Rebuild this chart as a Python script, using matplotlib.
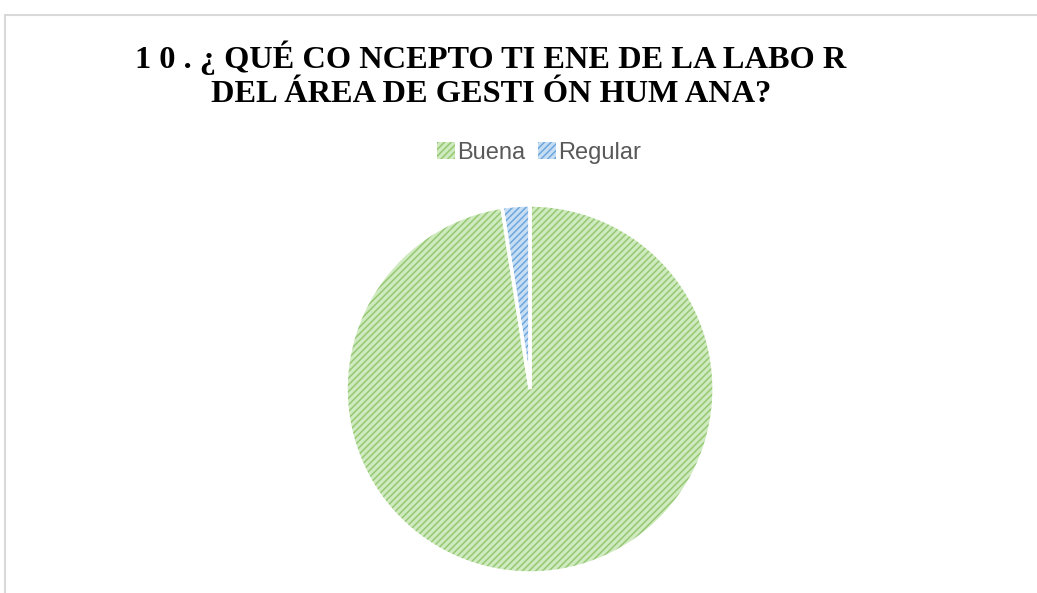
import matplotlib.pyplot as plt
from matplotlib.patches import Rectangle

# Respuestas a la pregunta 10
labels = ['Buena', 'Regular']
values = [40, 1]
face_colors = ['#d0eabf', '#c6def4']
hatch_colors = ['#94c874', '#6fa7dc']

title = '1 0 . ¿ QUÉ CO NCEPTO TI ENE DE LA LABO R\nDEL ÁREA DE GESTI ÓN HUM ANA?'

plt.rcParams['hatch.linewidth'] = 1.1

fig = plt.figure(figsize=(10.37, 5.93), dpi=100)

# marco gris del área del gráfico
fig.patches.append(Rectangle((5 / 1037, -0.05), 1.1, 1 - 15 / 593 + 0.05,
                             transform=fig.transFigure, facecolor='none',
                             edgecolor='#d9d9d9', linewidth=1.5))

ax = fig.add_axes([0.3337, 0.0337, 0.3549, 0.6206])

# capa con trama
wedges, _ = ax.pie(values, startangle=90, counterclock=False, radius=1,
                   colors=face_colors,
                   wedgeprops=dict(linewidth=0))
for w, hc in zip(wedges, hatch_colors):
    w.set_hatch('/////')
    w.set_edgecolor(hc)
    w.set_linewidth(0)

# borde blanco entre sectores
ax.pie(values, startangle=90, counterclock=False, radius=1,
       colors=['none', 'none'],
       wedgeprops=dict(edgecolor='white', linewidth=2.5, fill=False))
ax.set_xlim(-1, 1)
ax.set_ylim(-1, 1)
ax.set_aspect('equal')

fig.text(0.4735, 0.874, title, ha='center', va='center', fontsize=23.3,
         fontweight='bold', family='Liberation Serif', linespacing=1.22)

leg = fig.legend(wedges, labels, loc='center', bbox_to_anchor=(0.52, 0.742),
                 ncol=2, frameon=False, handlelength=0.75,
                 handleheight=0.75, handletextpad=0.1, columnspacing=0.55,
                 prop={'family': 'Liberation Sans', 'size': 17})
for t in leg.get_texts():
    t.set_color('#595959')

fig.savefig('out.png', dpi=100)
